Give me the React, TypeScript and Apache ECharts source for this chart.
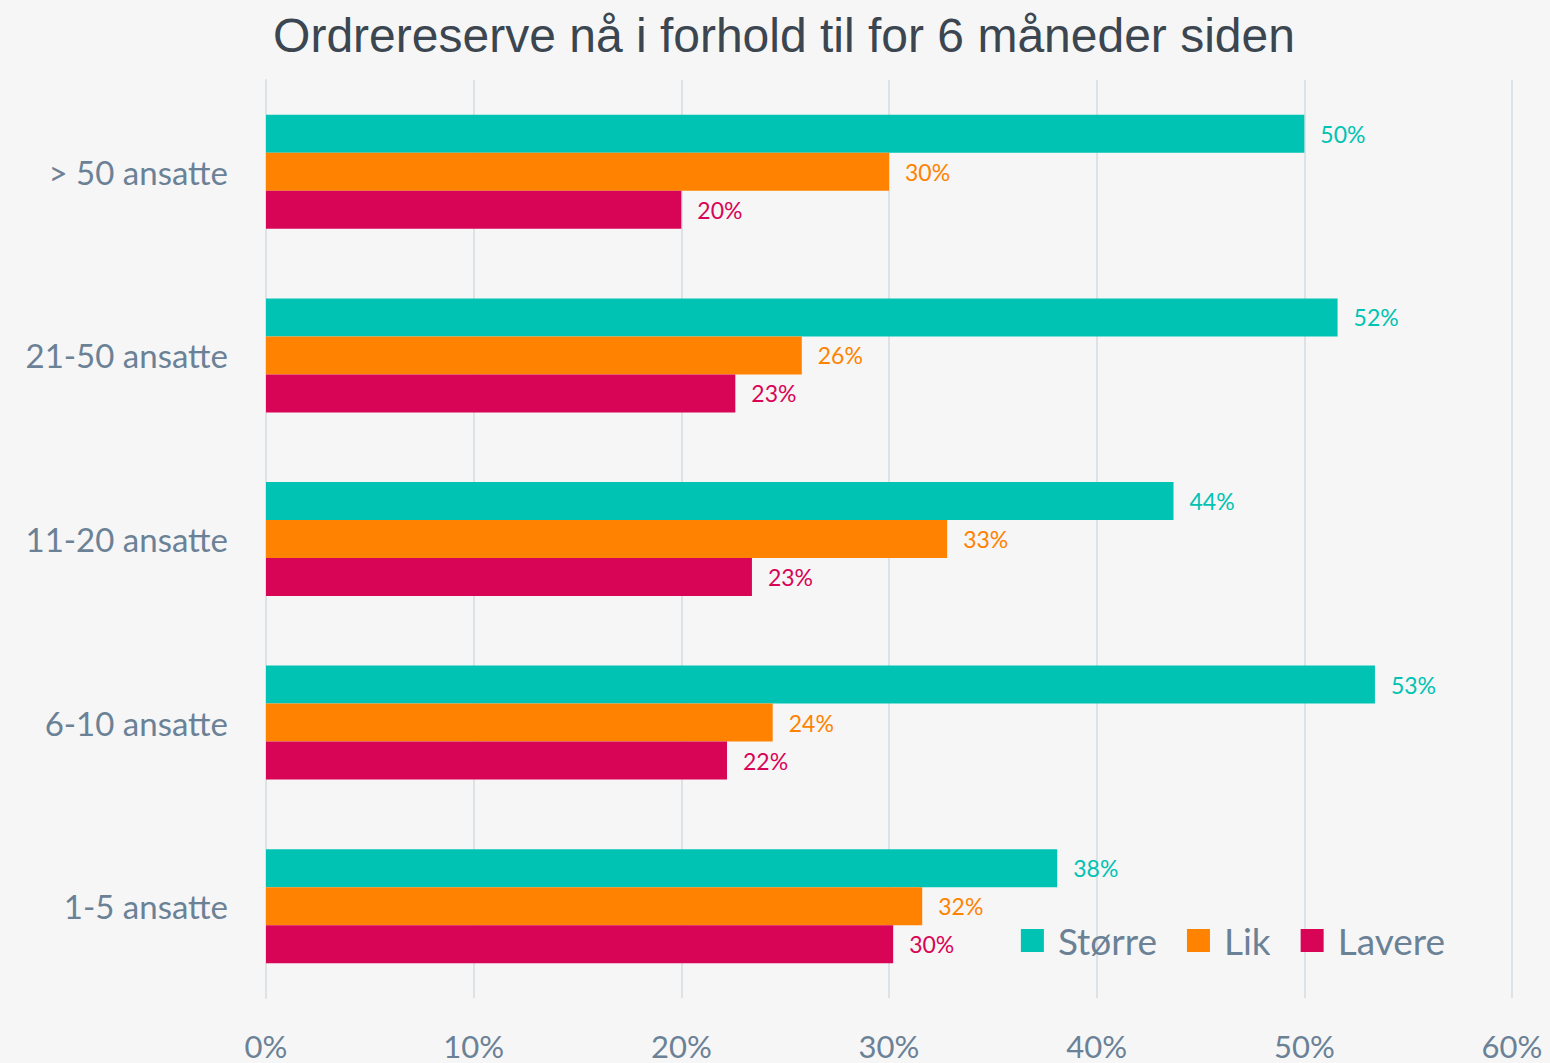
import React, { useEffect, useRef } from "react";
import * as echarts from "echarts";

const categories = ["1-5 ansatte", "6-10 ansatte", "11-20 ansatte", "21-50 ansatte", "> 50 ansatte"];
const storre = [38.1, 53.4, 43.7, 51.6, 50.0];
const lik = [31.6, 24.4, 32.8, 25.8, 30.0];
const lavere = [30.2, 22.2, 23.4, 22.6, 20.0];
const xTicks = [0, 10, 20, 30, 40, 50, 60];

const COLORS = ["#00c3b3", "#ff8300", "#d80557"];
const TEXT = "#6b8196";
const FONT = "Lato, 'Open Sans', sans-serif";

export default function App() {
  const ref = useRef<HTMLDivElement>(null);
  useEffect(() => {
    const chart = echarts.init(ref.current!, null, { renderer: "svg" });
    const mk = (name: string, data: number[], color: string) => ({
      name,
      type: "bar",
      data,
      barWidth: 38,
      barGap: "0%",
      itemStyle: { color },
      label: {
        show: true,
        position: "right",
        distance: 16,
        color,
        fontSize: 23,
        fontFamily: FONT,
        formatter: (p: any) => Math.round(p.value) + "%",
      },
    });
    chart.setOption({
      animation: false,
      backgroundColor: "#f6f6f6",
      title: {
        text: "Ordrereserve nå i forhold til for 6 måneder siden",
        left: 779,
        textAlign: "center",
        top: 6,
        textStyle: { fontFamily: "'Liberation Sans', Arial, sans-serif", fontSize: 48, fontWeight: "normal", color: "#3b4650" },
      },
      legend: {
        right: 100,
        top: 917,
        itemWidth: 23,
        itemHeight: 23,
        itemGap: 30,
        icon: "rect",
        textStyle: { fontSize: 37, color: TEXT, fontFamily: FONT, padding: [0, 0, 0, 9] },
        data: ["Større", "Lik", "Lavere"],
      },
      grid: { left: 266, right: 38, top: 80, bottom: 65, containLabel: false },
      xAxis: {
        type: "value",
        min: xTicks[0],
        max: xTicks[xTicks.length - 1],
        interval: 10,
        axisLine: { show: false },
        axisTick: { show: false },
        splitLine: { show: true, lineStyle: { color: "#dde2e7", width: 2 } },
        axisLabel: { formatter: "{value}%", fontSize: 31, color: TEXT, fontFamily: FONT, margin: 32 },
      },
      yAxis: {
        type: "category",
        data: categories,
        axisLine: { show: true, lineStyle: { color: "#dde2e7", width: 2 } },
        axisTick: { show: false },
        axisLabel: { fontSize: 33, color: TEXT, fontFamily: FONT, margin: 38, padding: [0, 0, 6, 0] },
      },
      series: [mk("Større", storre, COLORS[0]), mk("Lik", lik, COLORS[1]), mk("Lavere", lavere, COLORS[2])],
    });
    return () => chart.dispose();
  }, []);
  return <div ref={ref} style={{ width: 1550, height: 1063, position: "absolute", left: 0, top: 0 }} />;
}
